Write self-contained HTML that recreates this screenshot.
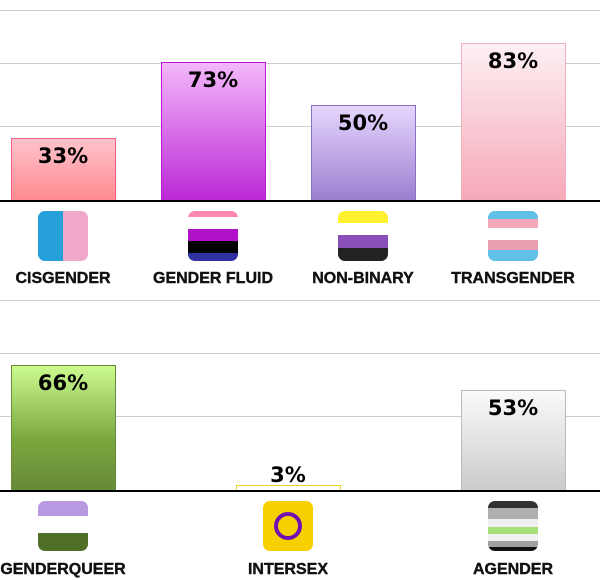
<!DOCTYPE html>
<html><head><style>
body{margin:0;background:#fff;width:600px;height:580px;overflow:hidden}
svg{display:block}
.v{font-family:"DejaVu Sans",sans-serif;font-weight:bold;font-size:21px;text-anchor:middle;fill:#000}
.l{font-family:"Liberation Sans",sans-serif;font-weight:bold;font-size:16px;text-anchor:middle;fill:#111;stroke:#111;stroke-width:0.4}
</style></head><body>
<svg width="600" height="580" xmlns="http://www.w3.org/2000/svg">
<defs>
<linearGradient id="g1" x1="0" y1="0" x2="0" y2="1"><stop offset="0" stop-color="#ffc3cc"/><stop offset="1" stop-color="#ff8a90"/></linearGradient>
<linearGradient id="g2" x1="0" y1="0" x2="0" y2="1"><stop offset="0" stop-color="#f4b8fb"/><stop offset="1" stop-color="#bb28d6"/></linearGradient>
<linearGradient id="g3" x1="0" y1="0" x2="0" y2="1"><stop offset="0" stop-color="#e6d6ff"/><stop offset="1" stop-color="#9b7fd0"/></linearGradient>
<linearGradient id="g4" x1="0" y1="0" x2="0" y2="1"><stop offset="0" stop-color="#fdf0f3"/><stop offset="1" stop-color="#f6a8b8"/></linearGradient>
<linearGradient id="g5" x1="0" y1="0" x2="0" y2="1"><stop offset="0" stop-color="#ccfb90"/><stop offset="0.6" stop-color="#7aa63e"/><stop offset="1" stop-color="#658a38"/></linearGradient>
<linearGradient id="g6" x1="0" y1="0" x2="0" y2="1"><stop offset="0" stop-color="#fafafa"/><stop offset="1" stop-color="#cbcbcb"/></linearGradient>
<clipPath id="c"><rect x="0" y="0" width="50" height="50" rx="7"/></clipPath>
</defs>
<g stroke="#cccccc" stroke-width="1">
<line x1="0" y1="10.5" x2="600" y2="10.5"/><line x1="0" y1="63.5" x2="600" y2="63.5"/><line x1="0" y1="126.5" x2="600" y2="126.5"/>
<line x1="0" y1="300.5" x2="600" y2="300.5"/><line x1="0" y1="353.5" x2="600" y2="353.5"/><line x1="0" y1="416.5" x2="600" y2="416.5"/>
</g>
<rect x="11.5" y="138.5" width="104" height="62" fill="url(#g1)" stroke="#f06080"/>
<rect x="161.5" y="62.5" width="104" height="138" fill="url(#g2)" stroke="#b818d0"/>
<rect x="311.5" y="105.5" width="104" height="95" fill="url(#g3)" stroke="#8a70c0"/>
<rect x="461.5" y="43.5" width="104" height="157" fill="url(#g4)" stroke="#f0b0c0"/>
<rect x="11.5" y="365.5" width="104" height="125" fill="url(#g5)" stroke="#6a8a3a"/>
<rect x="236.5" y="485.5" width="104" height="5" fill="#fff" stroke="#f0d020"/>
<rect x="461.5" y="390.5" width="104" height="100" fill="url(#g6)" stroke="#bbbbbb"/>
<rect x="0" y="200" width="600" height="2" fill="#000"/>
<rect x="0" y="490" width="600" height="2" fill="#000"/>
<text class="v" x="63" y="163">33%</text>
<text class="v" x="213" y="87">73%</text>
<text class="v" x="363" y="130">50%</text>
<text class="v" x="513" y="68">83%</text>
<text class="v" x="63" y="390">66%</text>
<text class="v" x="288" y="482">3%</text>
<text class="v" x="513" y="415">53%</text>
<g transform="translate(38,211)" clip-path="url(#c)"><rect width="25" height="50" fill="#25a0d8"/><rect x="25" width="25" height="50" fill="#f0a8c8"/></g>
<g transform="translate(188,211)" clip-path="url(#c)"><rect width="50" height="6" fill="#ff88b0"/><rect y="6" width="50" height="12" fill="#fff"/><rect y="18" width="50" height="12" fill="#b010c8"/><rect y="30" width="50" height="12" fill="#000"/><rect y="42" width="50" height="8" fill="#3030a0"/></g>
<g transform="translate(338,211)" clip-path="url(#c)"><rect width="50" height="12" fill="#fff030"/><rect y="12" width="50" height="12" fill="#fff"/><rect y="24" width="50" height="13" fill="#8850b8"/><rect y="37" width="50" height="13" fill="#222"/></g>
<g transform="translate(488,211)" clip-path="url(#c)"><rect width="50" height="50" fill="#60c0e8"/><rect y="8" width="50" height="9" fill="#f4a8b8"/><rect y="17" width="50" height="12" fill="#fff"/><rect y="29" width="50" height="10" fill="#e8a0b0"/></g>
<g transform="translate(38,501)" clip-path="url(#c)"><rect width="50" height="15" fill="#b898e0"/><rect y="15" width="50" height="17" fill="#fff"/><rect y="32" width="50" height="18" fill="#507028"/></g>
<g transform="translate(263,501)" clip-path="url(#c)"><rect width="50" height="50" fill="#f8d000"/><circle cx="25" cy="25" r="12" fill="none" stroke="#7010b0" stroke-width="4"/></g>
<g transform="translate(488,501)" clip-path="url(#c)"><rect width="50" height="7" fill="#333"/><rect y="7" width="50" height="11" fill="#b0b0b0"/><rect y="18" width="50" height="8" fill="#f0f0f0"/><rect y="26" width="50" height="7" fill="#a8e078"/><rect y="33" width="50" height="7" fill="#f0f0f0"/><rect y="40" width="50" height="6" fill="#a0a0a0"/><rect y="46" width="50" height="4" fill="#111"/></g>
<text class="l" x="63" y="283">CISGENDER</text>
<text class="l" x="213" y="283">GENDER FLUID</text>
<text class="l" x="363" y="283">NON-BINARY</text>
<text class="l" x="513" y="283">TRANSGENDER</text>
<text class="l" x="63" y="574">GENDERQUEER</text>
<text class="l" x="288" y="574">INTERSEX</text>
<text class="l" x="513" y="574">AGENDER</text>
</svg>
</body></html>
